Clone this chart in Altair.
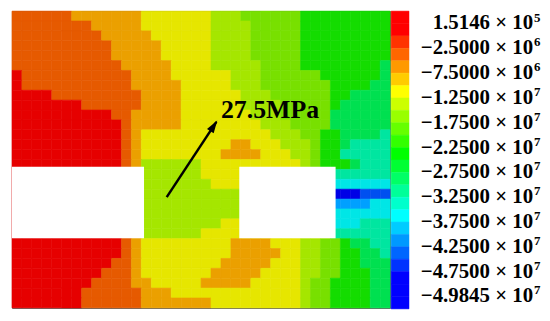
import altair as alt
import pandas as pd

# ---- contour field: one code per cell (38 cols x 30 rows, top row first)
field_rows = [
    "OOOOOOAAAAAAAYYYYYYYLLLMMMMMMGGGGGGGGG",
    "OOOOOOOOAAAAAYYYYYYYLLLLMMMMMGGGGGGGGG",
    "OOOOOOOOOAAAAAYYYYYYLLLLMMMMMGGGGGGGGG",
    "OOOOOOOOOOAAAAAYYYYYLLLLMMMMMGGGGGGGGG",
    "OOOOOOOOOOAAAAAYYYYYLLLLMMMMMGGGGGGGGG",
    "OOOOOOOOOOOAAAAAYYYYLLLLLMMMMGGGGGGGGH",
    "ROOOOOOOOOOOAAAAYYYYYYLLLMMMMMMGGGGGGH",
    "ROOOOOOOOOOOAAAAAYYYYYLLLMMMMMMMGGGGHH",
    "RRRROOOOOOOOOAAAAYYYYYYLLLMMMMMMGGHHHH",
    "RRRRRRROOOOOOAAAAYYYYYYLLLLMMMMMGHHHHH",
    "RRRRRRRRRROOAAAAAYYYYYYYLLLMMMMMHHHHHH",
    "RRRRRRRRRRROAAAAAYYYYYYYYLLLMMMMHHHHHH",
    "RRRRRRRRRRROAYYYYYYYYYYYYYLLLMMGGHHHHT",
    "RRRRRRRRRRROAYYYYYYYYYAAYYYLLLMGGHTTTT",
    "RRRRRRRRRRROAYYYYYYYYAAAAYYYLLMGGTTTTT",
    "RRRRRRRRRRROALLLLLLYYYYYYYYYYLMGGGHTTT",
    "RRRRRRRRRRROALLLLLLYYYYYYYYYYYYYTTTTTT",
    "RRRRRRRRRRROALLLLLLLYYYYYYYYYYYYCCCCCC",
    "RRRRRRRRRRROALLLLLLLLLLYYYYYYYYYKKKDDD",
    "RRRRRRRRRRROALLLLLLLLLLYYYYYYYYYBBBBCC",
    "RRRRRRRRRRROALLLLLLLLLLYYYYYYYYYCCCCCC",
    "RRRRRRRRRRROALLLLLLLLYYYYYYYYYYYCCCTTT",
    "RRRRRRRRRRROALLLLLLYYYYYYYYYYYYYTTTTTT",
    "RRRRRRRRRRROAYYYYYYYYYAAAAYYYLLMMGHHTT",
    "RRRRRRRRRRROAYYYYYYYYYAAAAAYYLLMMGGHHT",
    "RRRRRRRRRROOAYYYYYYYYAAAAAYYYLLMMGGHHH",
    "RRRRRRRRROOOAYYYYYYYAAAAAYYYYLLMMGGGHH",
    "RRRRRRRROOOOAAYYYYYAAAAAYYYYYLMMGGGGHH",
    "RRRRRRROOOOOOAAAYYYYYYYYYYYYYLMMGGGGHH",
    "RRRRRRROOOOOOAAAAAAAYYYYYYYYYLMMGGGGHH",
]
codes = ["R", "O", "A", "Y", "L", "M", "G", "H", "T", "C", "B", "D", "K"]
code_colors = ["#e60000", "#e65a00", "#eba000", "#e6e600", "#a5e600", "#78e000",
               "#14dc00", "#00e050", "#00e6a0", "#00e6e6", "#00a0ff", "#0050f0", "#0000e6"]

# openings (grid units)
opening_x0 = [0.0, 22.84]
opening_x1 = [13.27, 32.52]
opening_y0 = [15.74, 15.74]
opening_y1 = [22.97, 22.97]

# annotation
arrow_x = [15.55, 20.54]
arrow_y = [18.8, 11.19]
note_x = [21.0]
note_y = [10.0]
note_text = ["27.5MPa"]

# colour bar (24 bands, top first)
bar_colors = ["#ff0000", "#ff0000", "#ff3300", "#ff6600", "#ff9900", "#ffcc00",
              "#ffff00", "#ccff00", "#99ff00", "#66ff00", "#33ff00", "#00ff00",
              "#00ff33", "#00ff66", "#00ff99", "#00ffcc", "#00ffff", "#00ccff",
              "#0099ff", "#0066ff", "#0033ff", "#0000ff", "#0000ff", "#0000ff"]
tick_main = ["1.5146 × 10", "−2.5000 × 10", "−7.5000 × 10", "−1.2500 × 10",
             "−1.7500 × 10", "−2.2500 × 10", "−2.7500 × 10", "−3.2500 × 10",
             "−3.7500 × 10", "−4.2500 × 10", "−4.7500 × 10", "−4.9845 × 10"]
tick_exp = ["5", "6", "6", "7", "7", "7", "7", "7", "7", "7", "7", "7"]
tick_pos = [1, 3, 5, 7, 9, 11, 13, 15, 17, 19, 21, 23]

NC = len(field_rows[0])
NR = len(field_rows)
for r in field_rows:
    assert len(r) == NC, r

cells = pd.DataFrame([
    {"c0": c, "c1": c + 1, "r0": r, "r1": r + 1, "code": ch}
    for r, row in enumerate(field_rows) for c, ch in enumerate(row)
])

xs = alt.Scale(domain=[0, NC], nice=False, zero=False)
ys = alt.Scale(domain=[0, NR], nice=False, zero=False, reverse=True)
cscale = alt.Scale(domain=codes, range=code_colors)

base_field = alt.Chart(cells).mark_rect(strokeWidth=0.6).encode(
    x=alt.X("c0:Q", scale=xs, axis=None),
    x2="c1:Q",
    y=alt.Y("r0:Q", scale=ys, axis=None),
    y2="r1:Q",
    color=alt.Color("code:N", scale=cscale, legend=None),
    stroke=alt.Stroke("code:N", scale=cscale, legend=None),
)

openings = alt.Chart(pd.DataFrame({"x0": opening_x0, "x1": opening_x1,
                                   "y0": opening_y0, "y1": opening_y1})).mark_rect(
    color="white").encode(
    x=alt.X("x0:Q", scale=xs), x2="x1:Q", y=alt.Y("y0:Q", scale=ys), y2="y1:Q")

arrow_df = pd.DataFrame({"x": arrow_x, "y": arrow_y, "o": [0, 1]})
arrow_line = alt.Chart(arrow_df).mark_line(color="black", strokeWidth=2.5).encode(
    x=alt.X("x:Q", scale=xs), y=alt.Y("y:Q", scale=ys), order="o:Q")
arrow_head = alt.Chart(arrow_df.iloc[[1]]).mark_point(
    shape="M0,-0.2L-0.5,1.4L0.5,1.4Z", filled=True, color="black", opacity=1,
    size=256, angle=33).encode(
    x=alt.X("x:Q", scale=xs), y=alt.Y("y:Q", scale=ys))
note = alt.Chart(pd.DataFrame({"x": note_x, "y": note_y, "t": note_text})).mark_text(
    font="Liberation Serif", fontWeight="bold", fontSize=26, align="left",
    baseline="middle", color="black").encode(
    x=alt.X("x:Q", scale=xs), y=alt.Y("y:Q", scale=ys), text="t:N")

field = alt.layer(base_field, openings, arrow_line, arrow_head, note).properties(
    width=381, height=299,
    view=alt.ViewBackground(stroke="#555555", strokeWidth=1))

bands = pd.DataFrame({"b0": list(range(len(bar_colors))),
                      "b1": [i + 1 for i in range(len(bar_colors))],
                      "col": bar_colors})
bys = alt.Scale(domain=[0, len(bar_colors)], nice=False, zero=False, reverse=True)
bar = alt.Chart(bands).mark_rect(strokeWidth=0.5).encode(
    x=alt.value(0), x2=alt.value(18),
    y=alt.Y("b0:Q", scale=bys, axis=None), y2="b1:Q",
    color=alt.Color("col:N", scale=None),
    stroke=alt.Stroke("col:N", scale=None),
)
ticks = pd.DataFrame({"pos": tick_pos, "main": tick_main, "exp": tick_exp})
tmain = alt.Chart(ticks).mark_text(font="Liberation Serif", fontWeight="bold",
                                   fontSize=21, align="right", baseline="middle",
                                   color="black").encode(
    x=alt.value(143), y=alt.Y("pos:Q", scale=bys), text="main:N")
texp = alt.Chart(ticks).mark_text(font="Liberation Serif", fontWeight="bold",
                                  fontSize=13, align="left", baseline="middle",
                                  dy=-6, color="black").encode(
    x=alt.value(144), y=alt.Y("pos:Q", scale=bys), text="exp:N")
cbar = alt.layer(bar, tmain, texp).properties(
    width=152, height=300, view=alt.ViewBackground(strokeWidth=0))

chart = alt.hconcat(field, cbar, spacing=1, bounds="flush").properties(
    padding={"left": 3, "top": 1, "right": 0, "bottom": 0}
).configure_view(strokeWidth=0)

chart.save("out.html", embed_options={"renderer": "svg", "actions": False})
